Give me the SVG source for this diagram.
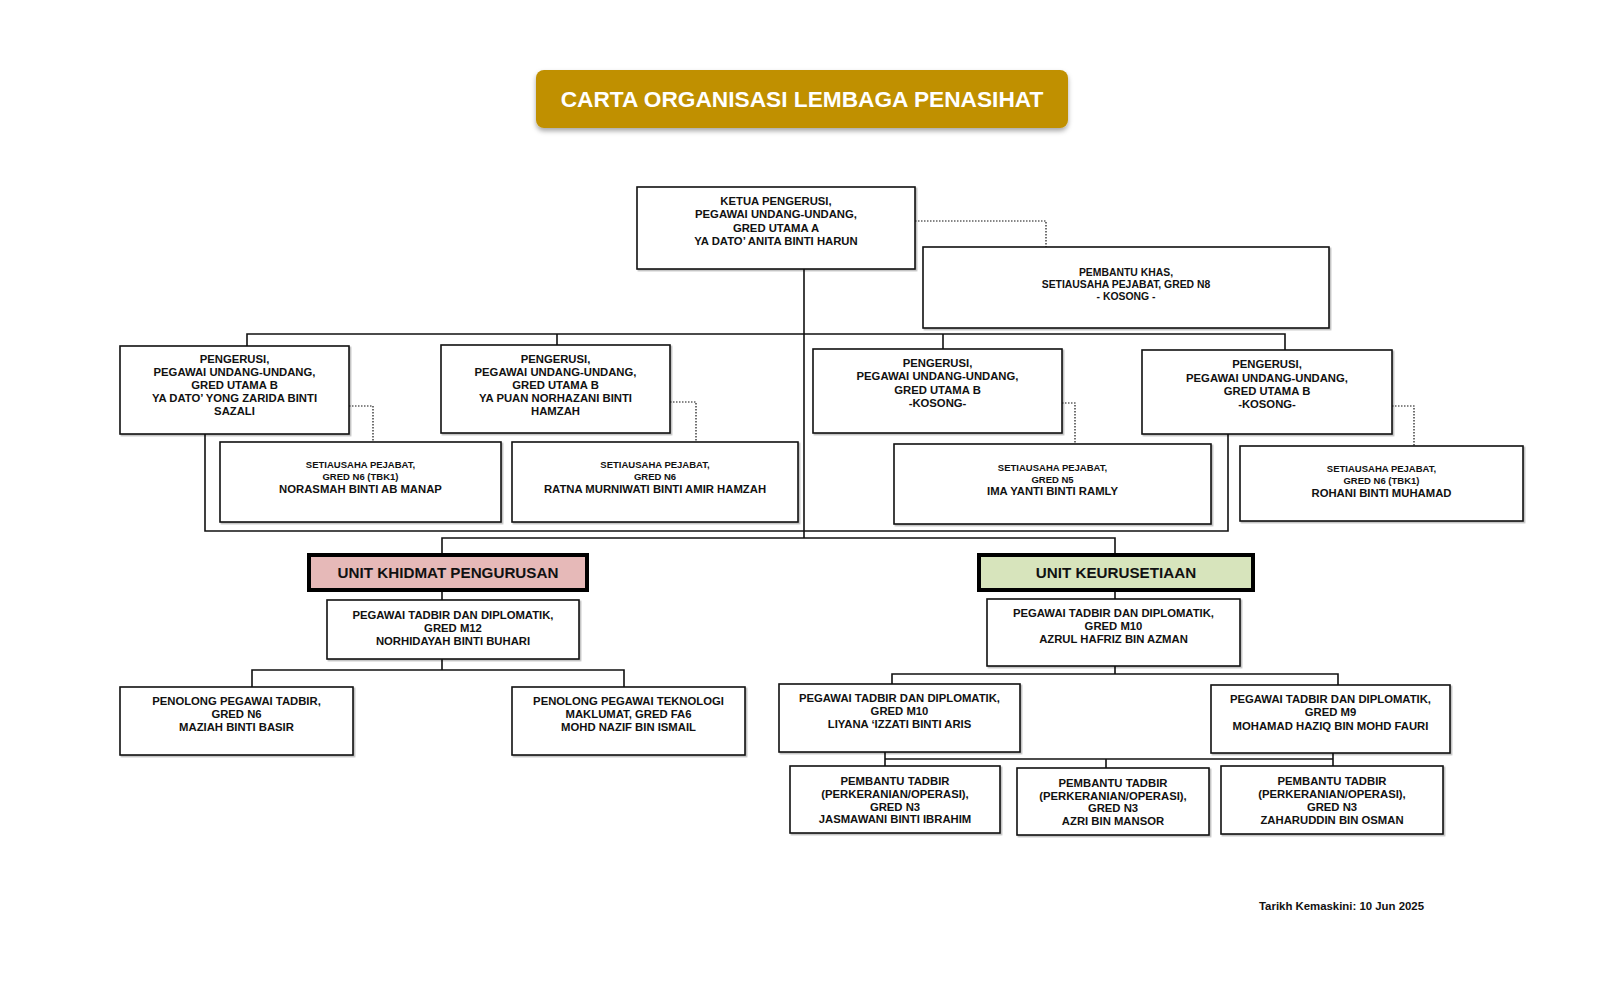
<svg xmlns="http://www.w3.org/2000/svg" width="1600" height="1000" viewBox="0 0 1600 1000">
<defs>
<filter id="sh" x="-5%" y="-20%" width="110%" height="150%">
<feDropShadow dx="0" dy="3" stdDeviation="2.5" flood-color="#000" flood-opacity="0.35"/>
</filter>
<filter id="bs" x="-5%" y="-5%" width="110%" height="115%">
<feDropShadow dx="1.5" dy="1.5" stdDeviation="0.6" flood-color="#000" flood-opacity="0.25"/>
</filter>
<style>
text{font-family:"Liberation Sans",Arial,sans-serif;font-weight:bold;fill:#111;text-anchor:middle}
.t{font-size:11.3px}
.s{font-size:9.5px}
.k{font-size:10.4px}
.u{font-size:15.2px}
.box{fill:#fff;stroke:#111;stroke-width:1.6;filter:url(#bs)}
.unit{stroke:#000;stroke-width:4}
.ln{fill:none;stroke:#111;stroke-width:1.6}
.dt{fill:none;stroke:#111;stroke-width:1.2;stroke-dasharray:1.5 1.5}
</style>
</defs>
<rect width="1600" height="1000" fill="#fff"/>

<g id="title">
<rect x="536" y="70" width="532" height="58" rx="8" fill="#C09000" filter="url(#sh)"/>
<text x="802" y="107" style="font-size:22.7px;fill:#fff">CARTA ORGANISASI LEMBAGA PENASIHAT</text>
</g>

<g id="connectors">
<polyline class="dt" points="915,221 1046,221 1046,247"/>
<line class="ln" x1="804" y1="269" x2="804" y2="538"/>
<polyline class="ln" points="247,346 247,334 1285,334 1285,350"/>
<line class="ln" x1="557" y1="334" x2="557" y2="345"/>
<line class="ln" x1="943" y1="334" x2="943" y2="349"/>
<polyline class="dt" points="349,406 373,406 373,442"/>
<polyline class="dt" points="670,402 696,402 696,442"/>
<polyline class="dt" points="1062,403 1075,403 1075,444"/>
<polyline class="dt" points="1392,406 1414,406 1414,446"/>
<polyline class="ln" points="205,434 205,531 1228,531 1228,434"/>
<polyline class="ln" points="442,555 442,538 1115,538 1115,555"/>
<line class="ln" x1="442" y1="590" x2="442" y2="600"/>
<line class="ln" x1="442" y1="659" x2="442" y2="670"/>
<polyline class="ln" points="252,687 252,670 624,670 624,687"/>
<line class="ln" x1="1115" y1="590" x2="1115" y2="599"/>
<line class="ln" x1="1115" y1="666" x2="1115" y2="674"/>
<polyline class="ln" points="892,684 892,674 1338,674 1338,685"/>
<polyline class="ln" points="885,752 885,766"/>
<polyline class="ln" points="1333,753 1333,766"/>
<line class="ln" x1="885" y1="759" x2="1333" y2="759"/>
<line class="ln" x1="1106" y1="759" x2="1106" y2="768"/>
</g>

<g id="ketua">
<rect class="box" x="637" y="187" width="278" height="82"/>
<text class="t" x="776" y="205">KETUA PENGERUSI,</text>
<text class="t" x="776" y="218">PEGAWAI UNDANG-UNDANG,</text>
<text class="t" x="776" y="232">GRED UTAMA A</text>
<text class="t" x="776" y="245">YA DATO’ ANITA BINTI HARUN</text>
</g>

<g id="pembantu-khas">
<rect class="box" x="923" y="247" width="406" height="81"/>
<text class="k" x="1126" y="276">PEMBANTU KHAS,</text>
<text class="k" x="1126" y="288">SETIAUSAHA PEJABAT, GRED N8</text>
<text class="k" x="1126" y="300">- KOSONG -</text>
</g>

<g id="pengerusi-1">
<rect class="box" x="120" y="346" width="229" height="88"/>
<text class="t" x="234.5" y="363">PENGERUSI,</text>
<text class="t" x="234.5" y="376">PEGAWAI UNDANG-UNDANG,</text>
<text class="t" x="234.5" y="389">GRED UTAMA B</text>
<text class="t" x="234.5" y="402">YA DATO’ YONG ZARIDA BINTI</text>
<text class="t" x="234.5" y="415">SAZALI</text>
</g>

<g id="pengerusi-2">
<rect class="box" x="441" y="345" width="229" height="88"/>
<text class="t" x="555.5" y="363">PENGERUSI,</text>
<text class="t" x="555.5" y="376">PEGAWAI UNDANG-UNDANG,</text>
<text class="t" x="555.5" y="389">GRED UTAMA B</text>
<text class="t" x="555.5" y="402">YA PUAN NORHAZANI BINTI</text>
<text class="t" x="555.5" y="415">HAMZAH</text>
</g>

<g id="pengerusi-3">
<rect class="box" x="813" y="349" width="249" height="84"/>
<text class="t" x="937.5" y="367">PENGERUSI,</text>
<text class="t" x="937.5" y="380">PEGAWAI UNDANG-UNDANG,</text>
<text class="t" x="937.5" y="394">GRED UTAMA B</text>
<text class="t" x="937.5" y="407">-KOSONG-</text>
</g>

<g id="pengerusi-4">
<rect class="box" x="1142" y="350" width="250" height="84"/>
<text class="t" x="1267" y="368">PENGERUSI,</text>
<text class="t" x="1267" y="382">PEGAWAI UNDANG-UNDANG,</text>
<text class="t" x="1267" y="395">GRED UTAMA B</text>
<text class="t" x="1267" y="408">-KOSONG-</text>
</g>

<g id="setiausaha-1">
<rect class="box" x="220" y="442" width="281" height="80"/>
<text class="s" x="360.5" y="468">SETIAUSAHA PEJABAT,</text>
<text class="s" x="360.5" y="480">GRED N6 (TBK1)</text>
<text class="t" x="360.5" y="493">NORASMAH BINTI AB MANAP</text>
</g>

<g id="setiausaha-2">
<rect class="box" x="512" y="442" width="286" height="80"/>
<text class="s" x="655" y="468">SETIAUSAHA PEJABAT,</text>
<text class="s" x="655" y="480">GRED N6</text>
<text class="t" x="655" y="493">RATNA MURNIWATI BINTI AMIR HAMZAH</text>
</g>

<g id="setiausaha-3">
<rect class="box" x="894" y="444" width="317" height="80"/>
<text class="s" x="1052.5" y="471">SETIAUSAHA PEJABAT,</text>
<text class="s" x="1052.5" y="483">GRED N5</text>
<text class="t" x="1052.5" y="495">IMA YANTI BINTI RAMLY</text>
</g>

<g id="setiausaha-4">
<rect class="box" x="1240" y="446" width="283" height="75"/>
<text class="s" x="1381.5" y="472">SETIAUSAHA PEJABAT,</text>
<text class="s" x="1381.5" y="484">GRED N6 (TBK1)</text>
<text class="t" x="1381.5" y="497">ROHANI BINTI MUHAMAD</text>
</g>

<g id="unit-khidmat-pengurusan">
<rect class="unit" x="309" y="555" width="278" height="35" fill="#E6B9B8"/>
<text class="u" x="448" y="578">UNIT KHIDMAT PENGURUSAN</text>
</g>

<g id="unit-keurusetiaan">
<rect class="unit" x="979" y="555" width="274" height="35" fill="#D7E4BC"/>
<text class="u" x="1116" y="578">UNIT KEURUSETIAAN</text>
</g>

<g id="norhidayah">
<rect class="box" x="327" y="600" width="252" height="59"/>
<text class="t" x="453" y="619">PEGAWAI TADBIR DAN DIPLOMATIK,</text>
<text class="t" x="453" y="632">GRED M12</text>
<text class="t" x="453" y="645">NORHIDAYAH BINTI BUHARI</text>
</g>

<g id="maziah">
<rect class="box" x="120" y="687" width="233" height="68"/>
<text class="t" x="236.5" y="705">PENOLONG PEGAWAI TADBIR,</text>
<text class="t" x="236.5" y="718">GRED N6</text>
<text class="t" x="236.5" y="731">MAZIAH BINTI BASIR</text>
</g>

<g id="mohd-nazif">
<rect class="box" x="512" y="687" width="233" height="68"/>
<text class="t" x="628.5" y="705">PENOLONG PEGAWAI TEKNOLOGI</text>
<text class="t" x="628.5" y="718">MAKLUMAT, GRED FA6</text>
<text class="t" x="628.5" y="731">MOHD NAZIF BIN ISMAIL</text>
</g>

<g id="azrul">
<rect class="box" x="987" y="599" width="253" height="67"/>
<text class="t" x="1113.5" y="617">PEGAWAI TADBIR DAN DIPLOMATIK,</text>
<text class="t" x="1113.5" y="630">GRED M10</text>
<text class="t" x="1113.5" y="643">AZRUL HAFRIZ BIN AZMAN</text>
</g>

<g id="liyana">
<rect class="box" x="779" y="684" width="241" height="68"/>
<text class="t" x="899.5" y="702">PEGAWAI TADBIR DAN DIPLOMATIK,</text>
<text class="t" x="899.5" y="715">GRED M10</text>
<text class="t" x="899.5" y="728">LIYANA ‘IZZATI BINTI ARIS</text>
</g>

<g id="haziq">
<rect class="box" x="1211" y="685" width="239" height="68"/>
<text class="t" x="1330.5" y="703">PEGAWAI TADBIR DAN DIPLOMATIK,</text>
<text class="t" x="1330.5" y="716">GRED M9</text>
<text class="t" x="1330.5" y="730">MOHAMAD HAZIQ BIN MOHD FAURI</text>
</g>

<g id="jasmawani">
<rect class="box" x="790" y="766" width="210" height="67"/>
<text class="t" x="895" y="785">PEMBANTU TADBIR</text>
<text class="t" x="895" y="798">(PERKERANIAN/OPERASI),</text>
<text class="t" x="895" y="811">GRED N3</text>
<text class="t" x="895" y="823">JASMAWANI BINTI IBRAHIM</text>
</g>

<g id="azri">
<rect class="box" x="1017" y="768" width="192" height="67"/>
<text class="t" x="1113" y="787">PEMBANTU TADBIR</text>
<text class="t" x="1113" y="800">(PERKERANIAN/OPERASI),</text>
<text class="t" x="1113" y="812">GRED N3</text>
<text class="t" x="1113" y="825">AZRI BIN MANSOR</text>
</g>

<g id="zaharuddin">
<rect class="box" x="1221" y="766" width="222" height="68"/>
<text class="t" x="1332" y="785">PEMBANTU TADBIR</text>
<text class="t" x="1332" y="798">(PERKERANIAN/OPERASI),</text>
<text class="t" x="1332" y="811">GRED N3</text>
<text class="t" x="1332" y="824">ZAHARUDDIN BIN OSMAN</text>
</g>

<g id="footer">
<text x="1259" y="910" style="font-size:11.4px;text-anchor:start">Tarikh Kemaskini: 10 Jun 2025</text>
</g>
</svg>
